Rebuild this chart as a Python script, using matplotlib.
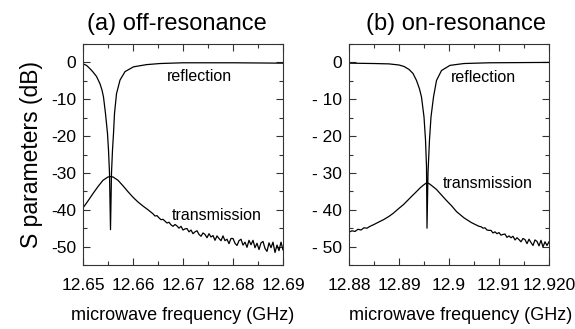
import matplotlib
matplotlib.use("Agg")
import matplotlib.pyplot as plt
from matplotlib.ticker import MultipleLocator, FixedLocator, FixedFormatter

plt.rcParams['font.family'] = ['Liberation Sans', 'DejaVu Sans']
plt.rcParams['axes.unicode_minus'] = False

# (a) off-resonance, frequencies in GHz, S parameters in dB
freq_refl_a = [12.6500, 12.6507, 12.6514, 12.6520, 12.6527, 12.6534, 12.6538, 12.6541,
               12.6545, 12.6549, 12.6551, 12.6553, 12.6555, 12.6557, 12.6559, 12.6561,
               12.6563, 12.6567, 12.6574, 12.6584, 12.6601, 12.6627, 12.6654, 12.6700,
               12.6800, 12.6900]
refl_a = [-0.4, -0.8, -1.7, -2.6, -3.8, -5.8, -7.5, -9.4,
          -13.9, -19.3, -23.8, -30.0, -45.4, -30.0, -23.8, -19.3,
          -13.9, -8.5, -4.8, -2.5, -1.2, -0.6, -0.3, -0.1,
          -0.1, -0.2]

freq_trans_a = [12.6500, 12.6510, 12.6520, 12.6530, 12.6540, 12.6550, 12.6555, 12.6560,
                12.6570, 12.6580, 12.6590, 12.6600, 12.6610, 12.6620, 12.6630,
                12.6640, 12.6644, 12.6648, 12.6652, 12.6656, 12.6660, 12.6664, 12.6668,
                12.6672, 12.6676, 12.6680, 12.6684, 12.6688, 12.6692, 12.6696, 12.6700,
                12.6704, 12.6708, 12.6712, 12.6716, 12.6720, 12.6724, 12.6728, 12.6732,
                12.6736, 12.6740, 12.6744, 12.6748, 12.6752, 12.6756, 12.6760, 12.6764,
                12.6768, 12.6772, 12.6776, 12.6780, 12.6784, 12.6788, 12.6792, 12.6796,
                12.6800, 12.6804, 12.6808, 12.6812, 12.6816, 12.6820, 12.6824, 12.6828,
                12.6832, 12.6836, 12.6840, 12.6844, 12.6848, 12.6852, 12.6856, 12.6860,
                12.6864, 12.6868, 12.6872, 12.6876, 12.6880, 12.6884, 12.6888, 12.6892,
                12.6896, 12.6900]
trans_a = [-39.5, -37.6, -35.6, -33.7, -32.0, -31.1, -31.0, -31.1,
           -32.0, -33.5, -35.1, -36.6, -37.9, -39.0, -40.0,
           -41.1, -41.7, -41.6, -42.2, -42.7, -42.6, -43.1, -43.6,
           -43.4, -44.1, -44.5, -44.0, -44.4, -45.0, -44.5, -45.5,
           -45.2, -45.1, -46.0, -45.5, -46.5, -46.0, -45.7, -46.7,
           -47.2, -46.3, -46.7, -47.6, -46.5, -47.4, -47.0, -48.3,
           -47.1, -47.8, -48.4, -47.1, -48.4, -48.0, -49.2, -47.8,
           -47.8, -49.1, -49.7, -48.4, -48.0, -49.6, -48.8, -50.2,
           -48.3, -49.5, -48.3, -50.3, -49.1, -50.8, -49.0, -48.6,
           -50.5, -51.3, -49.0, -50.3, -48.8, -51.6, -49.6, -51.1,
           -48.8, -50.9]

# (b) on-resonance
freq_refl_b = [12.8800, 12.8850, 12.8880, 12.8900, 12.8910, 12.8920, 12.8928, 12.8935,
               12.8941, 12.8945, 12.8950, 12.8953, 12.8955, 12.8956, 12.8958, 12.8961,
               12.8964, 12.8969, 12.8975, 12.8985, 12.9002, 12.9030, 12.9080, 12.9200]
refl_b = [-0.2, -0.3, -0.4, -0.7, -1.1, -1.9, -3.0, -4.9,
          -7.2, -9.4, -14.8, -21.0, -28.3, -45.0, -30.0, -21.0,
          -14.8, -9.4, -4.9, -2.2, -0.8, -0.3, -0.1, 0.0]

freq_trans_b = [12.8800, 12.8806, 12.8812, 12.8818, 12.8824, 12.8830, 12.8836, 12.8842,
                12.8850, 12.8860, 12.8869, 12.8880, 12.8889, 12.8900, 12.8909, 12.8917,
                12.8925, 12.8934, 12.8942, 12.8948, 12.8952, 12.8956, 12.8960, 12.8966,
                12.8975, 12.8985, 12.8995, 12.9005, 12.9015, 12.9030, 12.9045, 12.9060,
                12.9064, 12.9068, 12.9072, 12.9076, 12.9080, 12.9084, 12.9088, 12.9092,
                12.9096, 12.9100, 12.9104, 12.9108, 12.9112, 12.9116, 12.9120, 12.9124,
                12.9128, 12.9132, 12.9136, 12.9140, 12.9144, 12.9148, 12.9152, 12.9156,
                12.9160, 12.9164, 12.9168, 12.9172, 12.9176, 12.9180, 12.9184, 12.9188,
                12.9192, 12.9196, 12.9200]
trans_b = [-46.1, -45.7, -45.9, -45.3, -45.5, -44.9, -45.0, -44.5,
           -44.0, -43.3, -42.7, -41.8, -40.9, -39.6, -38.6, -37.5,
           -36.4, -35.2, -34.1, -33.4, -33.0, -32.6, -32.9, -33.5,
           -34.5, -36.0, -37.5, -38.9, -40.5, -42.2, -43.5, -44.5,
           -44.6, -45.0, -44.9, -45.5, -45.6, -45.6, -46.3, -46.0,
           -46.5, -46.2, -46.9, -46.7, -46.6, -47.5, -47.1, -47.6,
           -47.2, -48.2, -47.6, -48.1, -48.7, -47.8, -48.1, -49.2,
           -48.0, -48.9, -49.7, -48.2, -48.6, -49.8, -48.3, -50.1,
           -48.7, -49.7, -48.7]

xticks_a = [12.65, 12.66, 12.67, 12.68, 12.69]
xticklabels_a = ["12.65", "12.66", "12.67", "12.68", "12.69"]
xticks_b = [12.88, 12.89, 12.90, 12.91, 12.92]
xticklabels_b = ["12.88", "12.89", "12.9", "12.91", "12.920"]
yticks = [0, -10, -20, -30, -40, -50]
yticklabels_a = ["0", "-10", "-20", "-30", "-40", "-50"]
yticklabels_b = ["0", "- 10", "- 20", "- 30", "- 40", "- 50"]

W, H = 575, 329
fig = plt.figure(figsize=(W / 100, H / 100), dpi=100)

panels = [
    (83, freq_refl_a, refl_a, freq_trans_a, trans_a, xticks_a, xticklabels_a, yticklabels_a,
     (12.65, 12.69), (12.6732, -3.8), (12.6767, -41.6)),
    (349, freq_refl_b, refl_b, freq_trans_b, trans_b, xticks_b, xticklabels_b, yticklabels_b,
     (12.88, 12.92), (12.9069, -4.0), (12.9077, -32.8)),
]

for left, fr, r, ft, t, xt, xtl, ytl, xlim, pos_r, pos_t in panels:
    ax = fig.add_axes([left / W, 1 - 265 / H, 200 / W, 221 / H])
    ax.plot(fr, r, color="black", lw=0.9)
    ax.plot(ft, t, color="black", lw=0.9)
    ax.set_xlim(*xlim)
    ax.set_ylim(-55, 5)
    ax.xaxis.set_major_locator(FixedLocator(xt))
    ax.xaxis.set_major_formatter(FixedFormatter(xtl))
    ax.xaxis.set_minor_locator(MultipleLocator(0.005))
    ax.yaxis.set_major_locator(FixedLocator(yticks))
    ax.yaxis.set_major_formatter(FixedFormatter(ytl))
    ax.yaxis.set_minor_locator(MultipleLocator(5))
    ax.tick_params(which="both", direction="in", top=True, right=True,
                   labelsize=12.5, width=0.8, color="#333333")
    ax.tick_params(which="major", length=5)
    ax.tick_params(which="minor", length=3)
    ax.tick_params(axis="x", which="major", pad=9)
    ax.tick_params(axis="y", which="major", pad=5)
    for s in ax.spines.values():
        s.set_linewidth(0.8)
        s.set_color("#333333")
    ax.text(pos_r[0], pos_r[1], "reflection", fontsize=11.5, ha="center", va="center")
    ax.text(pos_t[0], pos_t[1], "transmission", fontsize=11.5, ha="center", va="center")

fig.text(177 / W, 1 - 24 / H, "(a) off-resonance", fontsize=17, ha="center", va="center")
fig.text(456 / W, 1 - 24 / H, "(b) on-resonance", fontsize=17, ha="center", va="center")
fig.text(32 / W, 1 - 154 / H, "S parameters (dB)", fontsize=16.5, rotation=90,
         ha="center", va="center")
fig.text(183 / W, 1 - 316 / H, "microwave frequency (GHz)", fontsize=13, ha="center", va="center")
fig.text(461 / W, 1 - 316 / H, "microwave frequency (GHz)", fontsize=13, ha="center", va="center")

fig.savefig("out.png", dpi=100)
